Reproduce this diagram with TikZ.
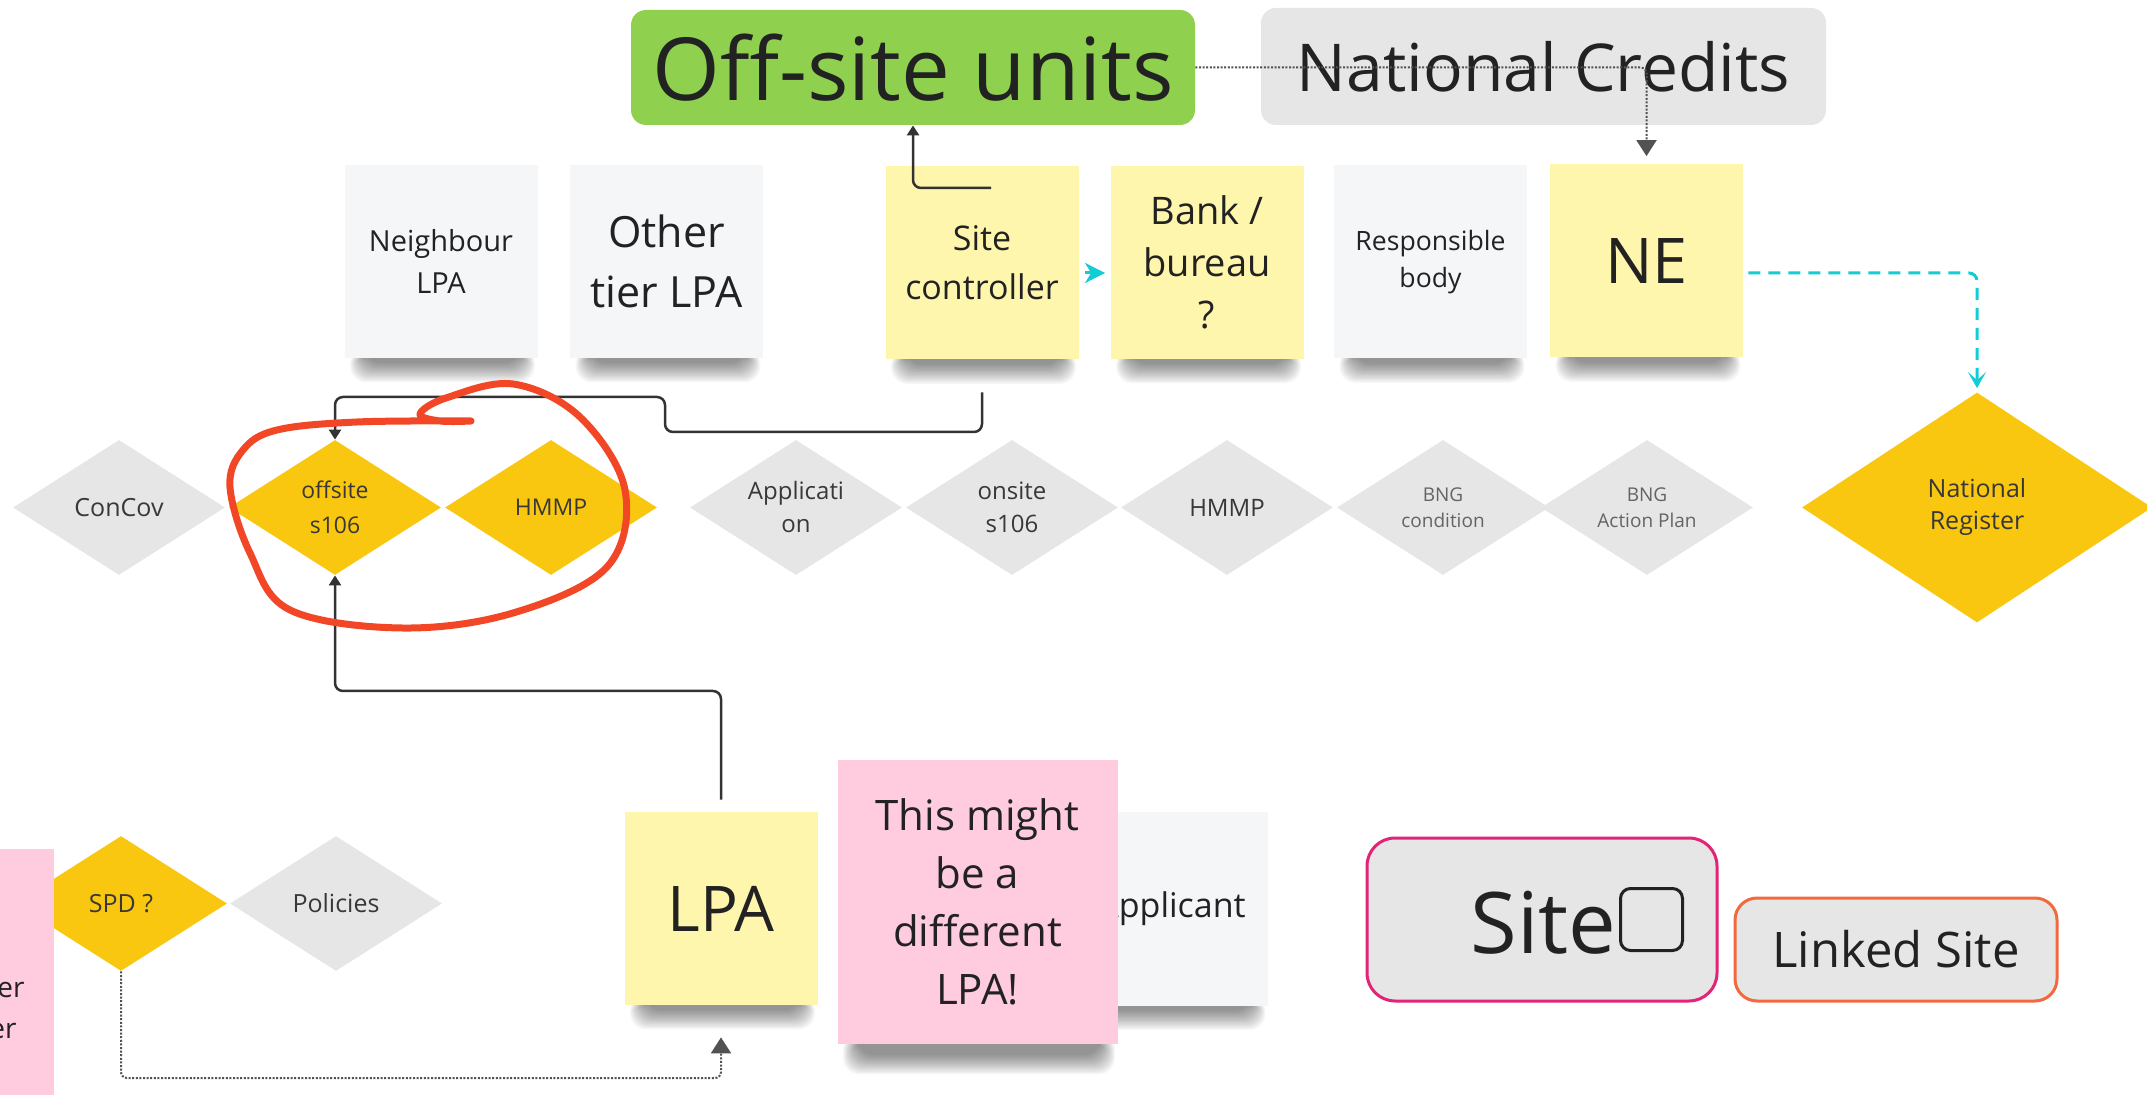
\documentclass[tikz,border=0pt]{standalone}
\usepackage{fontspec}
\setmainfont{Open Sans}
\usetikzlibrary{shapes.geometric, arrows.meta, calc}

\definecolor{stickyyellow}{HTML}{FFF6AE}
\definecolor{stickygray}{HTML}{F5F6F8}
\definecolor{stickypink}{HTML}{FFCCDF}
\definecolor{shapegray}{HTML}{E6E6E6}
\definecolor{shapeyellow}{HTML}{FAC710}
\definecolor{offgreen}{HTML}{8FD14F}
\definecolor{markred}{HTML}{F24726}
\definecolor{linkcyan}{HTML}{12CDD4}
\definecolor{siteborder}{HTML}{E3237A}
\definecolor{linkedborder}{HTML}{F2693E}
\definecolor{ink}{HTML}{222222}
\definecolor{connink}{HTML}{333333}

\pgfdeclarelayer{paper}
\pgfdeclarelayer{shadows}
\pgfsetlayers{paper,shadows,main}

\newcommand\fsz[2]{\fontsize{#1}{#2}\selectfont}

% soft shadow under the bottom edge of a sticky note
\newcommand\noteshadow[2][24]{%
  \begin{pgfonlayer}{shadows}
    \foreach \k in {0,...,15}{%
      \fill[black, opacity=0.03, rounded corners=8pt]
        ($(#2.south west)+(6+\k,-10)$) rectangle
        ($(#2.south east)+(-3-\k,{#1-1.3*\k})$);
    }
  \end{pgfonlayer}}

\begin{document}
\begin{tikzpicture}[x=0.5pt, y=-0.5pt,
  note/.style={rectangle, inner sep=0pt, minimum width=96.5pt, minimum height=96.5pt,
    align=center, text=ink},
  ynote/.style={note, fill=stickyyellow},
  gnote/.style={note, fill=stickygray},
  pnote/.style={note, fill=stickypink},
  dia/.style={diamond, shape aspect=1.57, inner sep=0pt, minimum width=106pt,
    minimum height=67.5pt, align=center, text=ink!90},
  gdia/.style={dia, fill=shapegray},
  ydia/.style={dia, fill=shapeyellow},
  conn/.style={draw=connink, line width=1.25pt, rounded corners=4pt,
    -{Triangle[length=5pt,width=6pt]}},
  dotconn/.style={draw=connink!85, line width=1pt, dash pattern=on 1pt off 0.8pt,
    rounded corners=3pt, -{Triangle[length=8pt,width=10pt]}},
  cyanconn/.style={draw=linkcyan, line width=1.5pt},
]

% canvas
\useasboundingbox (0,0) rectangle (2147,1095);
\clip (0,0) rectangle (2147,1095);
\begin{pgfonlayer}{paper}
  \fill[white] (0,0) rectangle (2147,1095);
\end{pgfonlayer}

% top labels
\node[fill=offgreen, rounded corners=7.5pt, minimum width=282pt, minimum height=57.5pt,
  inner sep=0pt, font=\fsz{43.5}{50}, text=ink] (off) at (913,67.5) {Off-site units};
\node[fill=shapegray, rounded corners=7.5pt, minimum width=282.5pt, minimum height=58.5pt,
  inner sep=0pt, font=\fsz{33}{40}, text=ink] (nc) at (1543.5,66.5) {National Credits};

% row of actors
\node[gnote, font=\fsz{14.5}{21}] (nb) at (441,261.5) {Neighbour\\LPA};
\node[gnote, font=\fsz{21.5}{30}] (ot) at (666.5,261.5) {Other\\tier LPA};
\node[ynote, font=\fsz{17}{24.5}] (sc) at (982,263) {Site\\controller};
\node[ynote, font=\fsz{19}{26}] (bk) at (1207,262.5) {Bank /\\bureau\\?};
\node[gnote, font=\fsz{13.3}{18.5}] (rb) at (1430.5,262) {Responsible\\body};
\node[ynote, font=\fsz{31.5}{38}] (ne) at (1646.5,261) {NE};
\noteshadow{nb}\noteshadow{ot}\noteshadow{sc}
\noteshadow{bk}\noteshadow{rb}\noteshadow{ne}

% links between the top items
\draw[dotconn] (off.east) -| ($(ne.north)+(0,-8)$);
\coordinate (scin) at (991,188);
\draw[conn] (scin) -| (off.south);
\draw[cyanconn, shorten <=3pt, -{Stealth[length=10pt,width=10pt,inset=3pt]}]
  ($(sc.east)+(0,10)$) -- ($(bk.west)+(-5,10.5)$);

% row of documents
\node[gdia, font=\fsz{12.5}{17}] (cc) at (119,507.5) {ConCov};
\node[ydia, font=\fsz{11.5}{17.5}] (os) at (335,507.5) {offsite\\s106};
\node[ydia, font=\fsz{11.5}{17}] (hm1) at (551,507.5) {HMMP};
\node[gdia, font=\fsz{12}{16.5}] (apn) at (796,507.5) {Applicati\\on};
\node[gdia, font=\fsz{12}{16.5}] (ons) at (1012,507.5) {onsite\\s106};
\node[gdia, font=\fsz{12}{16.5}] (hm2) at (1227,507.5) {HMMP};
\node[gdia, font=\fsz{9.5}{13}, text=ink!70] (bc) at (1443,507.5) {BNG\\condition};
\node[gdia, font=\fsz{9.5}{13}, text=ink!70] (ba) at (1647,507.5) {BNG\\Action Plan};
\node[ydia, shape aspect=1.52, minimum width=175pt, minimum height=115pt,
  font=\fsz{12.5}{16}] (nr) at (1977,507.5) {National\\Register};

\draw[cyanconn, dash pattern=on 6pt off 4pt, rounded corners=4pt,
  -{Stealth[length=8pt,width=9pt,inset=4pt]}]
  ($(ne.east)+(5,12)$) -| ($(nr.north)+(0,-4)$);

% site controller down to the offsite agreement
\coordinate (scb) at ($(sc.south)+(0,32.5)$);
\coordinate (c1) at (665,432);
\coordinate (c2) at (335,397);
\draw[conn] (scb) |- (c1) |- (c2) -- (os.north);

% lower row
\node[gnote, font=\fsz{17}{24}] (ap) at (1171.5,909) {Applicant};
\node[pnote, minimum width=140pt, minimum height=142pt, font=\fsz{21}{29}] (dl)
  at (977.5,902) {This might\\be a\\different\\LPA!};
\node[ynote, font=\fsz{31.5}{38}] (lpa) at (721,908.5) {LPA};
\noteshadow{ap}\noteshadow[30]{dl}\noteshadow{lpa}

\node[ydia, font=\fsz{12.5}{17}] (spd) at (121,903.5) {SPD ?};
\node[gdia, font=\fsz{12.5}{17}] (pol) at (336,903.5) {Policies};

\node[fill=stickypink, minimum width=97pt, minimum height=130pt, inner sep=0pt] (pk)
  at (-43,979) {};
\node[anchor=base east, inner sep=0pt, font=\fsz{14}{20}, text=ink] (er1) at (25,997) {er};
\node[anchor=base east, inner sep=0pt, font=\fsz{14}{20}, text=ink] (er2) at (17,1038) {er};

% LPA up to the offsite agreement
\coordinate (lpat) at ($(lpa.north)+(0,-12)$);
\coordinate (c3) at (335,691);
\draw[conn] (lpat) |- (c3) -- (os.south);

% SPD to LPA
\coordinate (c4) at (721,1078);
\draw[dotconn] (spd.south) |- (c4) -- ($(lpa.south)+(0,32)$);

% site boxes
\node[fill=shapegray, draw=siteborder, line width=1.5pt, rounded corners=14pt,
  minimum width=175pt, minimum height=81.5pt] (site) at (1542,919.5) {};
\node[anchor=base west, inner sep=0pt, font=\fsz{42.5}{50}, text=ink] (sitetxt)
  at (1470,953) {Site};
\node[draw=ink, line width=1.5pt, rounded corners=5pt, minimum size=31pt, inner sep=0pt]
  (tofu) at (1651.5,919.5) {};
\node[fill=shapegray, draw=linkedborder, line width=1.5pt, rounded corners=11pt,
  minimum width=161pt, minimum height=51.5pt, font=\fsz{24.5}{30}, text=ink] (ls)
  at (1896,949.5) {Linked Site};

% hand-drawn marker ring
\draw[markred, line width=3.5pt, line cap=round, line join=round]
  plot[smooth, tension=0.6] coordinates {(471,421) (357,422) (277,430) (243,450)
  (230,487) (250,553) (290,610) (402,628) (513,613) (607,567) (625,490) (580,417)
  (513,384) (446,398) (420,414) (440,421) (471,421)};

\end{tikzpicture}
\end{document}
